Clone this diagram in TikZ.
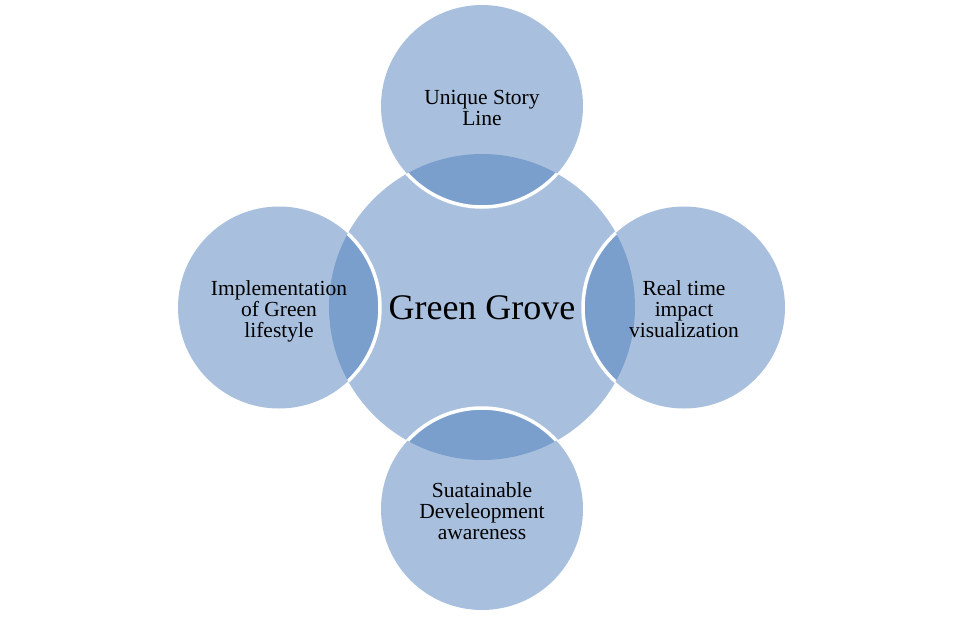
\documentclass[tikz,border=0pt]{standalone}
\usepackage{fontspec}
\setmainfont{Liberation Serif}
\definecolor{petal}{RGB}{168,192,222}
\definecolor{overlap}{RGB}{123,159,204}
\begin{document}
\begin{tikzpicture}[x=1pt,y=-1pt,
  hubdisc/.style={circle, fill=petal, minimum size=306pt, inner sep=0pt},
  petaldisc/.style={circle, fill=petal, minimum size=202pt, inner sep=0pt},
  petaltext/.style={inner sep=0pt, align=center, text depth=0pt, yshift=-2pt, font=\fontsize{21.5}{21}\selectfont},
  hubtext/.style={inner sep=0pt, yshift=-1pt, font=\fontsize{36}{36}\selectfont}]
\useasboundingbox (0,0) rectangle (964,616);
% central disc and the four surrounding discs
\node[hubdisc] (hub) at (482,307) {};
\node[petaldisc] (ptop) at (482,106) {};
\node[petaldisc] (pleft) at (279,307.5) {};
\node[petaldisc] (pright) at (684,307.5) {};
\node[petaldisc] (pbottom) at (482,509) {};
% darker lenses where each disc overlaps the centre, with a white rim
\begin{scope}
  \clip (hub.center) circle[radius=153pt];
  \foreach \p in {ptop,pleft,pright,pbottom} {
    \fill[overlap] (\p.center) circle[radius=101pt];
    \draw[white, line width=3.5pt] (\p.center) circle[radius=101pt];
  }
\end{scope}
% labels
\node[hubtext] (thub) at (hub.center) {Green Grove};
\node[petaltext] (ttop) at (ptop.center) {Unique Story\\Line};
\node[petaltext] (tleft) at (pleft.center) {Implementation\\of Green\\lifestyle};
\node[petaltext] (tright) at (pright.center) {Real time\\impact\\visualization};
\node[petaltext] (tbottom) at (pbottom.center) {Suatainable\\Develeopment\\awareness};
\end{tikzpicture}
\end{document}
